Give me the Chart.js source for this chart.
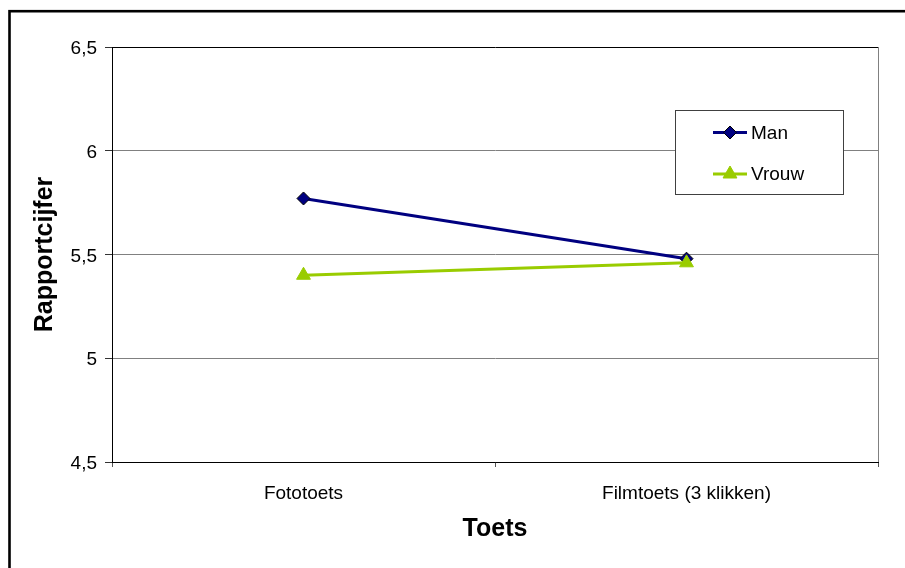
<!DOCTYPE html>
<html>
<head>
<meta charset="utf-8">
<script src="https://cdn.jsdelivr.net/npm/chart.js@4.4.1/dist/chart.umd.min.js"></script>
<style>
  html, body { margin: 0; padding: 0; background: #fff; }
  canvas { display: block; }
</style>
</head>
<body>
<canvas id="c" width="905" height="568"></canvas>
<script>
// Report marks per test type, split by gender
const categories = ['Fototoets', 'Filmtoets (3 klikken)'];
const manValues = [5.77, 5.48];
const vrouwValues = [5.40, 5.46];
const seriesNames = ['Man', 'Vrouw'];
const yTickValues = [4.5, 5, 5.5, 6, 6.5];
const yTitle = 'Rapportcijfer';
const xTitle = 'Toets';

const FONT = '"Liberation Sans", Arial, sans-serif';
Chart.defaults.font.family = FONT;
Chart.defaults.color = '#000';

// Thick outer frame around the whole chart
const framePlugin = {
  id: 'frame',
  beforeDraw(chart) {
    const ctx = chart.ctx;
    ctx.save();
    ctx.strokeStyle = '#000';
    ctx.lineWidth = 2.6;
    ctx.strokeRect(9.5, 11.2, 2000, 2000);
    ctx.restore();
  }
};

// Boxed legend placed inside the plot area
const boxLegend = {
  id: 'boxLegend',
  afterDatasetsDraw(chart) {
    const ctx = chart.ctx;
    ctx.save();
    const bx = 675.5, by = 110.5, bw = 168, bh = 84;
    ctx.fillStyle = '#fff';
    ctx.fillRect(bx, by, bw, bh);
    ctx.strokeStyle = '#404040';
    ctx.lineWidth = 1;
    ctx.strokeRect(bx, by, bw, bh);
    chart.data.datasets.forEach((ds, i) => {
      const y = 132.5 + i * 41.5;
      ctx.strokeStyle = ds.borderColor;
      ctx.lineWidth = 3;
      ctx.beginPath();
      ctx.moveTo(713, y);
      ctx.lineTo(747, y);
      ctx.stroke();
      ctx.fillStyle = ds.pointBackgroundColor;
      ctx.strokeStyle = ds.pointBorderColor;
      ctx.lineWidth = ds.pointBorderWidth;
      Chart.helpers.drawPoint(ctx, {
        pointStyle: ds.pointStyle,
        radius: ds.pointRadius,
        borderWidth: ds.pointBorderWidth,
        rotation: 0
      }, 730, y);
      ctx.fillStyle = '#000';
      ctx.font = '19px ' + FONT;
      ctx.textAlign = 'left';
      ctx.textBaseline = 'middle';
      ctx.fillText(ds.label, 751, y + 1);
    });
    ctx.restore();
  }
};

new Chart(document.getElementById('c'), {
  type: 'line',
  data: {
    labels: categories,
    datasets: [
      {
        label: seriesNames[0],
        data: manValues,
        borderColor: '#000080',
        borderWidth: 3,
        pointStyle: 'rectRot',
        pointRadius: 6.5,
        pointBackgroundColor: '#000080',
        pointBorderColor: '#000000',
        pointBorderWidth: 1,
        order: 1
      },
      {
        label: seriesNames[1],
        data: vrouwValues,
        borderColor: '#99CC00',
        borderWidth: 3,
        pointStyle: 'triangle',
        pointRadius: 8,
        pointBackgroundColor: '#99CC00',
        pointBorderColor: '#99CC00',
        pointBorderWidth: 1,
        order: 0
      }
    ]
  },
  options: {
    responsive: false,
    animation: false,
    devicePixelRatio: 1,
    events: [],
    layout: { padding: { top: 47, right: 27, left: 0, bottom: 0 } },
    plugins: {
      legend: { display: false },
      tooltip: { enabled: false },
      title: { display: false }
    },
    elements: { line: { tension: 0 } },
    scales: {
      x: {
        offset: true,
        grid: {
          offset: true,
          drawOnChartArea: true,
          color: (c) => c.type === 'tick' ? 'rgba(0,0,0,0)' : '#808080',
          tickColor: '#555',
          tickLength: 5,
          lineWidth: 1
        },
        border: { color: '#000', width: 1 },
        ticks: { font: { size: 19 }, color: '#000', padding: 15, maxRotation: 0 },
        title: {
          display: true,
          text: xTitle,
          font: { size: 25, weight: 'bold' },
          color: '#000',
          padding: { top: 0, bottom: 24 }
        },
        afterFit(scale) { scale.height = 106; }
      },
      y: {
        min: 4.5,
        max: 6.5,
        afterBuildTicks(scale) {
          scale.ticks = yTickValues.map(v => ({ value: v }));
        },
        grid: {
          color: (c) => (c.tick && (c.tick.value === 6.5 || c.tick.value === 4.5)) ? '#000' : '#808080',
          tickColor: '#333',
          tickLength: 7,
          lineWidth: 1
        },
        border: { color: '#000', width: 1 },
        ticks: {
          font: { size: 19 },
          color: '#000',
          padding: 8,
          labelOffset: 2,
          callback: (v) => String(v).replace('.', ',')
        },
        title: {
          display: true,
          text: yTitle,
          font: { size: 25, weight: 'bold' },
          color: '#000',
          padding: { top: 30, bottom: 0 }
        },
        afterFit(scale) { scale.width = 112; }
      }
    }
  },
  plugins: [framePlugin, boxLegend]
});
</script>
</body>
</html>
